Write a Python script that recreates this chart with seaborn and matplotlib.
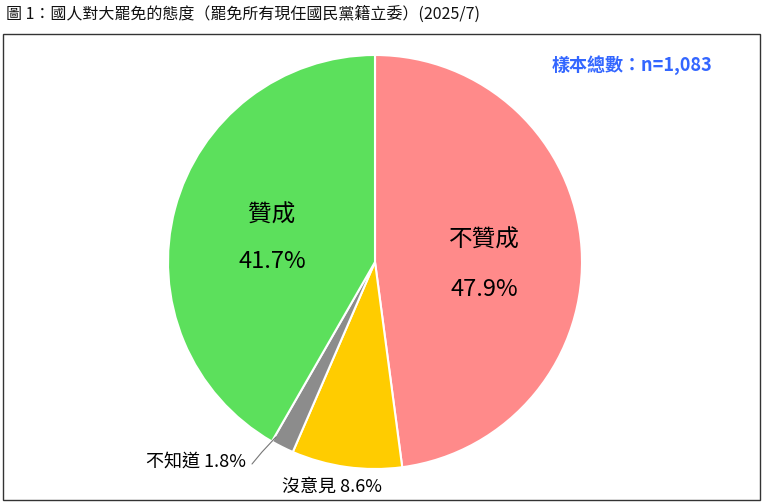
import matplotlib
matplotlib.use("Agg")
import matplotlib.pyplot as plt
import seaborn as sns
from matplotlib.patches import Rectangle

sns.set_theme(style="white")
plt.rcParams["font.family"] = "Noto Sans CJK TC"

# ── Data ───────────────────────────────────────────────────────────────────────
labels = ["不贊成", "沒意見", "不知道", "贊成"]
values = [47.9, 8.6, 1.8, 41.7]
colors = ["#FF8A8A", "#FFCC00", "#8C8C8C", "#5CE05C"]
title = "圖 1：國人對大罷免的態度（罷免所有現任國民黨籍立委）(2025/7)"
sample = "樣本總數：n=1,083"

W, H = 764, 504
fig = plt.figure(figsize=(W / 100, H / 100), dpi=100)
fig.patch.set_facecolor("white")

# frame
fig.patches.append(Rectangle((3 / W, 4 / H), 757 / W, 466 / H, transform=fig.transFigure,
                             fill=False, edgecolor="#333333", linewidth=1.0))
fig.text(6 / W, 1 - 14 / H, title, fontsize=11.5, va="center", ha="left", color="#111111")

R = 207
ax = fig.add_axes([(375 - R) / W, (H - 262 - R) / H, 2 * R / W, 2 * R / H])
ax.pie(values, colors=colors, startangle=90, counterclock=False,
       wedgeprops={"edgecolor": "white", "linewidth": 1.5})
ax.set_xlim(-1, 1)
ax.set_ylim(-1, 1)
ax.set_aspect("auto")


def px(x, y):
    return (x - 375) / R, (262 - y) / R


big = dict(fontsize=17, ha="center", va="center", fontweight="medium", color="black")
small = dict(fontsize=13, ha="center", va="center", fontweight="medium", color="black", clip_on=False)
ax.text(*px(484, 240), "不贊成", **big)
ax.text(*px(484, 290), "47.9%", **big)
ax.text(*px(272, 215), "贊成", **big)
ax.text(*px(272, 262), "41.7%", **big)
ax.text(*px(332, 487), "沒意見 8.6%", **small)
ax.text(*px(196, 462), "不知道 1.8%", **small)
x0, y0 = px(252, 464)
x1, y1 = px(262, 452)
x2, y2 = px(276, 437)
ax.plot([x0, x1, x2], [y0, y1, y2], color="#777777", linewidth=0.8, clip_on=False)

fig.text(632 / W, 1 - 65 / H, sample, fontsize=13, color="#3366FF", ha="center", va="center",
         fontweight="bold")

fig.savefig("out.png", dpi=100, facecolor="white")
